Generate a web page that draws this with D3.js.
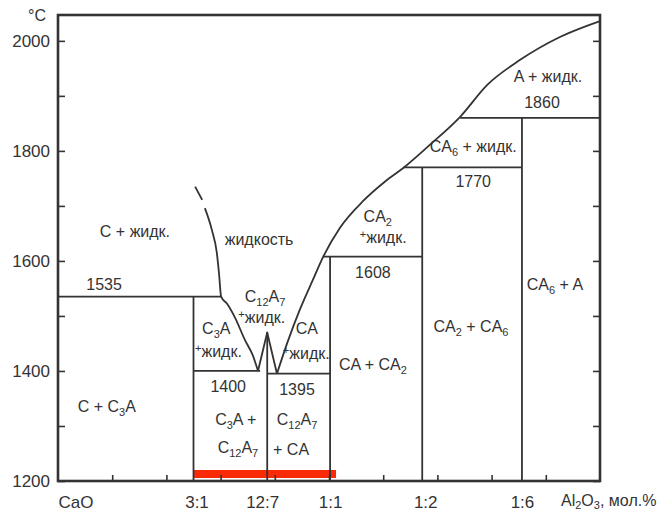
<!DOCTYPE html>
<html>
<head>
<meta charset="utf-8">
<script src="https://cdn.jsdelivr.net/npm/d3@7/dist/d3.min.js"></script>
<style>
  html, body { margin: 0; padding: 0; background: #fff; }
  svg { display: block; }
  text { font-family: "Liberation Sans", Arial, sans-serif; fill: #333; }
</style>
</head>
<body>
<svg id="chart" width="666" height="513"></svg>
<script>
// Система CaO – Al2O3: состав в мол.% Al2O3, температура в °С

// Составы соединений (мол.% Al2O3) и их подписи на оси
const ratioLabels = ["CaO", "3:1", "12:7", "1:1", "1:2", "1:6"];
const ratioComp   = [0, 25, 38.6, 50.2, 67.2, 85.6];

// Деления осей
const tempTicks  = [1200, 1300, 1400, 1500, 1600, 1700, 1800, 1900, 2000];
const tempLabels = [1200, 1400, 1600, 1800, 2000];
const compTicks  = [10, 20, 30, 40, 50, 60, 70, 80, 90];

// Ликвидус: ветвь от CaO (штриховое начало и сплошная часть)
const liquidusDash = [[25.3, 1735], [26.6, 1711]];
const liquidusLeft = [[27.1, 1696], [28.4, 1656], [29.3, 1615], [29.7, 1578], [30.1, 1535],
                      [31.2, 1522], [32.7, 1496], [34.5, 1456], [36.0, 1427], [36.9, 1400]];
// Максимум плавления C12A7
const c12a7Peak = [[36.9, 1400], [38.6, 1470], [40.4, 1395]];
// Ликвидус: ветвь к Al2O3
const liquidusRight = [[40.4, 1395], [42.3, 1451], [44.6, 1511], [47.0, 1565],
                       [48.9, 1607], [52.0, 1660], [56.3, 1709], [60.3, 1744], [63.7, 1769],
                       [68.6, 1811], [74.2, 1862], [79.2, 1920], [85.2, 1965], [92.6, 2007],
                       [100, 2036]];

// Изотермы: температура, начало и конец по составу
const isoTemp = [1535, 1400, 1395, 1608, 1770, 1860];
const isoFrom = [0,    25,   38.6, 48.9, 63.7, 74.2];
const isoTo   = [30.1, 37.3, 50.2, 67.2, 85.6, 100];

// Вертикали соединений: состав и верхняя температура
const solidComp = [25, 38.6, 50.2, 67.2, 85.6];
const solidTop  = [1535, 1470, 1608, 1770, 1860];

// Выделенный интервал составов
const highlightRange = [25, 51.3];

// Подписи полей: текст, состав, температура
const fieldText = ["С + жидк.", "1535", "С + С_{3}А", "жидкость",
  "C_{12}A_{7}", "^{+}жидк.", "C_{3}A", "^{+}жидк.", "CA", "^{+}жидк.",
  "1400", "C_{3}A +", "C_{12}A_{7}", "1395", "C_{12}A_{7}", "+ CA",
  "CA + CA_{2}", "CA_{2} + CA_{6}", "CA_{6} + A", "CA_{2}", "^{+}жидк.", "1608",
  "CA_{6} + жидк.", "1770", "A + жидк.", "1860"];
const fieldComp = [14.2, 8.5, 9.0, 37.1,
  38.2, 37.6, 29.2, 29.6, 45.9, 45.8,
  31.4, 32.8, 33.2, 44.1, 44.1, 43.0,
  58.1, 76.2, 91.7, 59.0, 60.0, 58.1,
  76.6, 76.6, 90.4, 89.3];
const fieldTemp = [1653, 1556, 1335, 1638,
  1535, 1496, 1477, 1434, 1477, 1431,
  1371, 1311, 1260, 1365, 1311, 1256,
  1411, 1480, 1556, 1680, 1642, 1578,
  1807, 1744, 1935, 1887];

const svg = d3.select("#chart");
const padL = 58, padR = 600, padT = 15, padB = 481;

const x = d3.scaleLinear().domain([0, 100]).range([padL, padR]);
const y = d3.scaleLinear().domain([1200, 2047]).range([padB, padT]);

const ink = "#333";

// Выделение интервала
svg.append("rect")
  .attr("x", x(highlightRange[0]))
  .attr("y", y(1220))
  .attr("width", x(highlightRange[1]) - x(highlightRange[0]))
  .attr("height", 8)
  .attr("fill", "#fb2a06");

// Оси
const axisL = svg.append("g")
  .attr("transform", `translate(${padL},0)`)
  .call(d3.axisLeft(y).tickValues(tempTicks).tickSize(-7).tickPadding(8)
    .tickFormat(d => tempLabels.includes(d) ? d : ""));
const axisR = svg.append("g")
  .attr("transform", `translate(${padR},0)`)
  .call(d3.axisRight(y).tickValues(tempTicks).tickSize(-7).tickFormat(""));
const axisB = svg.append("g")
  .attr("transform", `translate(0,${padB})`)
  .call(d3.axisBottom(x).tickValues(compTicks).tickSize(-6).tickFormat(""));
const axisRatio = svg.append("g")
  .attr("transform", `translate(0,${padB})`)
  .call(d3.axisBottom(x).tickValues(ratioComp).tickSize(0).tickPadding(15)
    .tickFormat((d, i) => ratioLabels[i]));

[axisL, axisR, axisB, axisRatio].forEach(g => {
  g.select(".domain").remove();
  g.selectAll(".tick line").attr("stroke", ink).attr("stroke-width", 1.6);
  g.selectAll("text").attr("font-size", 17).attr("fill", ink)
    .style("font-family", "'Liberation Sans', Arial, sans-serif");
});
axisRatio.selectAll(".tick").filter((d, i) => i === 0).select("text")
  .attr("text-anchor", "start").attr("x", 0);
axisRatio.selectAll(".tick").filter((d, i) => i === 1).select("text").attr("x", 3);
axisRatio.selectAll(".tick").filter((d, i) => i === 2).select("text").attr("x", -5);
axisRatio.selectAll(".tick").filter((d, i) => i === 4).select("text").attr("x", 3);

// Рамка
svg.append("rect")
  .attr("x", padL).attr("y", padT)
  .attr("width", padR - padL).attr("height", padB - padT)
  .attr("fill", "none").attr("stroke", ink).attr("stroke-width", 2.6);

const lines = svg.append("g")
  .attr("fill", "none").attr("stroke", ink).attr("stroke-width", 1.8)
  .attr("stroke-linejoin", "round");

const curve = d3.line().x(d => x(d[0])).y(d => y(d[1])).curve(d3.curveMonotoneX);
const straight = d3.line().x(d => x(d[0])).y(d => y(d[1]));

lines.append("path").attr("d", straight(liquidusDash));
lines.append("path").attr("d", curve(liquidusLeft));
lines.append("path").attr("d", straight(c12a7Peak));
lines.append("path").attr("d", curve(liquidusRight));

isoTemp.forEach((t, i) => {
  lines.append("line")
    .attr("x1", x(isoFrom[i])).attr("x2", x(isoTo[i]))
    .attr("y1", y(t)).attr("y2", y(t));
});
solidComp.forEach((c, i) => {
  lines.append("line")
    .attr("x1", x(c)).attr("x2", x(c))
    .attr("y1", y(1200)).attr("y2", y(solidTop[i]));
});

// Подписи с индексами: _{..} – нижний индекс, ^{..} – верхний
function richText(sel, str, sub = 4) {
  const parts = str.split(/(_\{[^}]*\}|\^\{[^}]*\})/).filter(s => s.length);
  let shift = 0;
  parts.forEach(p => {
    if (p.startsWith("_{")) {
      sel.append("tspan").attr("font-size", 11).attr("dy", sub - shift).text(p.slice(2, -1));
      shift = sub;
    } else if (p.startsWith("^{")) {
      sel.append("tspan").attr("font-size", 11).attr("dy", -5 - shift).text(p.slice(2, -1));
      shift = -5;
    } else {
      sel.append("tspan").attr("dy", -shift).text(p);
      shift = 0;
    }
  });
}

const labels = svg.append("g").attr("font-size", 16).attr("text-anchor", "middle");
fieldText.forEach((t, i) => {
  const el = labels.append("text")
    .attr("x", x(fieldComp[i]))
    .attr("y", y(fieldTemp[i]) + 5);
  richText(el, t);
});

// Подписи осей
svg.append("text").attr("x", 37).attr("y", 21).attr("text-anchor", "middle")
  .attr("font-size", 16).text("°С");
const axTitle = svg.append("text").attr("x", 561).attr("y", 506).attr("font-size", 16);
richText(axTitle, "Al_{2}O_{3}, мол.%", 3);
</script>
</body>
</html>
